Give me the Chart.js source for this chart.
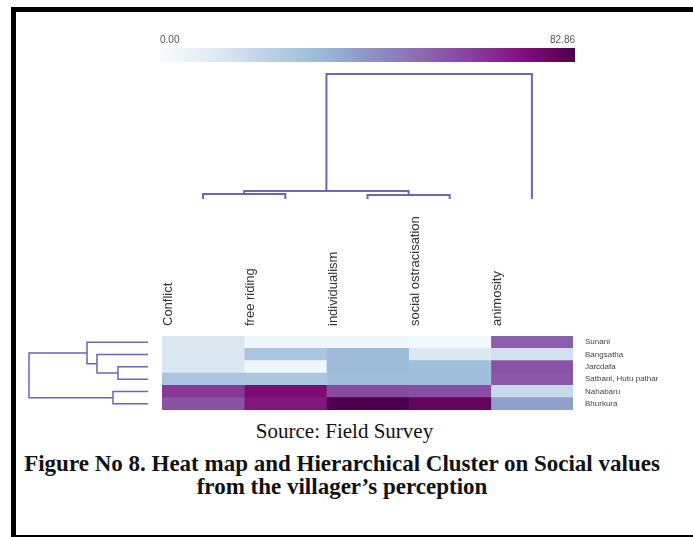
<!DOCTYPE html>
<html>
<head>
<meta charset="utf-8">
<script src="https://cdn.jsdelivr.net/npm/chart.js@4/dist/chart.umd.min.js"></script>
<style>
  html, body { margin: 0; padding: 0; background: #fff; }
  body { width: 693px; height: 537px; position: relative; overflow: hidden; }
  .box { position: absolute; }
  .frame { position: absolute; left: 11px; top: 7px; width: 720px; height: 523px;
           border-left: 5px solid #000; border-top: 5px solid #000; border-bottom: 4px solid #000; }
  .source { position: absolute; left: 0; width: 689px; top: 419px; text-align: center;
            font-family: "Liberation Serif", serif; font-size: 21px; color: #111; }
  .caption { position: absolute; left: 12px; width: 660px; top: 452px; text-align: center;
             font-family: "Liberation Serif", serif; font-weight: bold; font-size: 23px; line-height: 23px; color: #111; }
</style>
</head>
<body>
<div class="frame"></div>
<div class="box" style="left:160px;top:30px;width:415px;height:32px"><canvas id="scaleBar"></canvas></div>
<div class="box" style="left:162px;top:69px;width:411px;height:130px"><canvas id="colTree"></canvas></div>
<div class="box" style="left:28px;top:336px;width:120px;height:74px"><canvas id="rowTree"></canvas></div>
<div class="box" style="left:162px;top:206px;width:521px;height:204px"><canvas id="heatmap"></canvas></div>
<div class="source">Source: Field Survey</div>
<div class="caption">Figure No 8. Heat map and Hierarchical Cluster on Social values<br>from the villager’s perception</div>

<script>
// Data
const columns = ['Conflict', 'free riding', 'individualism', 'social ostracisation', 'animosity'];
const villages = ['Sunani', 'Bangsatha', 'Jarcdafa', 'Satbani, Hutu pathar', 'Nahabaru', 'Bhurkura'];

const conflict = [12, 12, 12, 27, 64, 58];
const freeRiding = [4, 27, 4, 27, 74, 71];
const individualism = [3, 31, 31, 30, 60, 82.86];
const socialOstracisation = [2, 12, 30, 30, 59, 79];
const animosity = [55, 15, 58, 57, 18, 39];

const colorMin = 0;
const colorMax = 82.86;

// linkage: [childA, childB, height], new cluster ids start at number of leaves
const colLinkage = [[0, 1, 5], [2, 3, 4], [5, 6, 8], [7, 4, 125]];
const rowLinkage = [[2, 3, 30], [4, 5, 35], [1, 6, 51], [0, 8, 61], [9, 7, 119]];

const heat = [conflict, freeRiding, individualism, socialOstracisation, animosity];
const buPu = ['#f7fcfd', '#e0ecf4', '#bfd3e6', '#9ebcda', '#8c96c6', '#8c6bb1', '#88419d', '#810f7c', '#4d004b'];
const treeColor = '#6b67b0';

function hexRgb(h) {
    return [1, 3, 5].map(i => parseInt(h.slice(i, i + 2), 16));
}

function colorFor(v) {
    const t = Math.min(1, Math.max(0, (v - colorMin) / (colorMax - colorMin))) * (buPu.length - 1);
    const i = Math.min(buPu.length - 2, Math.floor(t));
    const f = t - i;
    const a = hexRgb(buPu[i]), b = hexRgb(buPu[i + 1]);
    const c = a.map((x, k) => Math.round(x + (b[k] - x) * f));
    return `rgb(${c[0]},${c[1]},${c[2]})`;
}

// turn a linkage list into U-shaped line segments
function dendroSegments(linkage, n) {
    const pos = [], h = [];
    for (let i = 0; i < n; i++) { pos.push(i + 0.5); h.push(0); }
    return linkage.map(([a, b, d]) => {
        const seg = [[pos[a], h[a]], [pos[a], d], [pos[b], d], [pos[b], h[b]]];
        pos.push((pos[a] + pos[b]) / 2);
        h.push(d);
        return seg;
    });
}

// stop the axes from shifting the chart area for overhanging labels
function noPad(s) {
    s.paddingLeft = 0; s.paddingRight = 0; s.paddingTop = 0; s.paddingBottom = 0;
}

Chart.defaults.font.family = '"Liberation Sans", Arial, sans-serif';
Chart.defaults.animation = false;

const noPlugins = { legend: { display: false }, tooltip: { enabled: false } };

// Colour scale bar
new Chart(document.getElementById('scaleBar'), {
    type: 'bar',
    data: {
        labels: ['scale'],
        datasets: [{
            data: [[colorMin, colorMax]],
            backgroundColor: (ctx) => {
                const area = ctx.chart.chartArea;
                if (!area) return buPu[4];
                const g = ctx.chart.ctx.createLinearGradient(area.left, 0, area.right, 0);
                buPu.forEach((c, i) => g.addColorStop(i / (buPu.length - 1), c));
                return g;
            },
            borderWidth: 0,
            barPercentage: 1,
            categoryPercentage: 1
        }]
    },
    options: {
        indexAxis: 'y',
        responsive: true,
        maintainAspectRatio: false,
        layout: { padding: 0 },
        plugins: noPlugins,
        scales: {
            x: {
                type: 'linear', position: 'top', min: colorMin, max: colorMax,
                afterBuildTicks: (s) => { s.ticks = [{ value: colorMin }, { value: colorMax }]; },
                afterFit: (s) => { s.height = 18; noPad(s); },
                ticks: { align: 'inner', padding: 2, color: '#555', font: { size: 10 },
                         callback: (v) => Number(v).toFixed(2) },
                grid: { display: false, drawTicks: false },
                border: { display: false }
            },
            y: { display: false }
        }
    }
});

// Column dendrogram
new Chart(document.getElementById('colTree'), {
    type: 'scatter',
    data: {
        datasets: dendroSegments(colLinkage, columns.length).map(seg => ({
            data: seg.map(([x, y]) => ({ x, y })),
            showLine: true,
            borderColor: treeColor,
            borderWidth: 2,
            pointRadius: 0,
            clip: false
        }))
    },
    options: {
        responsive: true,
        maintainAspectRatio: false,
        layout: { padding: 0 },
        plugins: noPlugins,
        scales: {
            x: { type: 'linear', min: 0, max: columns.length, display: false },
            y: { type: 'linear', min: 0, max: 130, display: false }
        }
    }
});

// Row dendrogram
new Chart(document.getElementById('rowTree'), {
    type: 'scatter',
    data: {
        datasets: dendroSegments(rowLinkage, villages.length).map(seg => ({
            data: seg.map(([y, x]) => ({ x, y })),
            showLine: true,
            borderColor: treeColor,
            borderWidth: 1.5,
            pointRadius: 0,
            clip: false
        }))
    },
    options: {
        responsive: true,
        maintainAspectRatio: false,
        layout: { padding: 0 },
        plugins: noPlugins,
        scales: {
            x: { type: 'linear', min: 0, max: 120, reverse: true, display: false },
            y: { type: 'linear', min: 0, max: villages.length, reverse: true, display: false }
        }
    }
});

// Heat map: one stacked bar segment per cell, coloured by its value
new Chart(document.getElementById('heatmap'), {
    type: 'bar',
    data: {
        labels: villages,
        datasets: columns.map((c, j) => ({
            label: c,
            data: heat[j].map(() => 1),
            backgroundColor: heat[j].map(colorFor),
            borderWidth: 0,
            barPercentage: 1,
            categoryPercentage: 1
        }))
    },
    options: {
        indexAxis: 'y',
        responsive: true,
        maintainAspectRatio: false,
        layout: { padding: 0 },
        plugins: noPlugins,
        scales: {
            x: {
                type: 'linear', position: 'top', stacked: true, min: 0, max: columns.length,
                afterBuildTicks: (s) => { s.ticks = columns.map((c, j) => ({ value: j + 0.27 })); },
                afterFit: (s) => { s.height = 130; noPad(s); },
                ticks: { autoSkip: false, minRotation: 90, maxRotation: 90, padding: 10,
                         color: '#333', font: { size: 13 },
                         callback: (v) => columns[Math.floor(v)] },
                grid: { display: false, drawTicks: false },
                border: { display: false }
            },
            y: {
                position: 'right', stacked: true,
                afterFit: (s) => { s.width = 110; noPad(s); },
                ticks: { autoSkip: false, padding: 12, color: '#444', font: { size: 8 } },
                grid: { display: false, drawTicks: false },
                border: { display: false }
            }
        }
    }
});
</script>
</body>
</html>
